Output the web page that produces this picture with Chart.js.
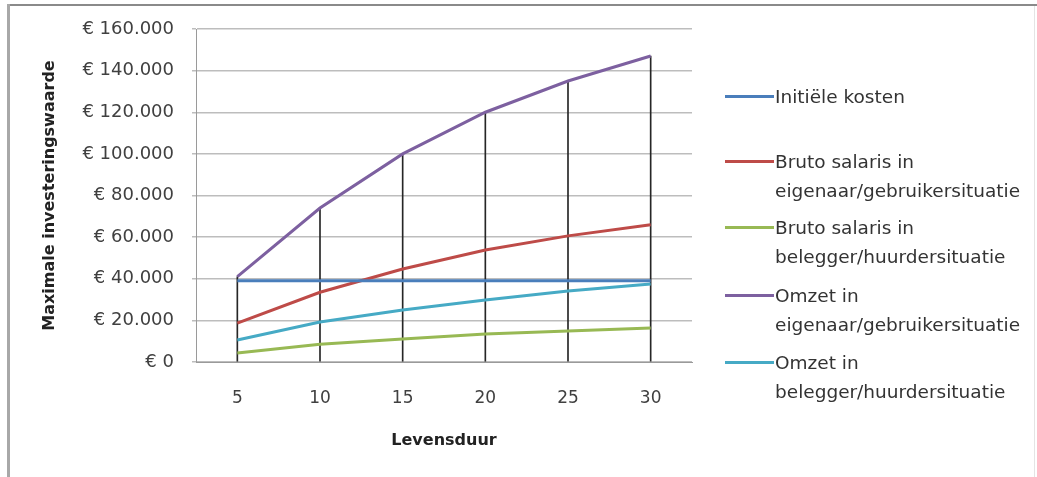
<!DOCTYPE html>
<html>
<head>
<meta charset="utf-8">
<script src="https://cdn.jsdelivr.net/npm/chart.js@4"></script>
<style>
    html, body { margin: 0; padding: 0; background: #fff; }
    .wrap { position: relative; width: 1037px; height: 477px; overflow: hidden; background: #fff; }
    .frame-top { position: absolute; left: 7px; top: 4px; width: 1030px; height: 2px; background: #8a8a8a; }
    .frame-left { position: absolute; left: 7px; top: 4px; width: 3px; height: 473px; background: #a8a8a8; }
    .frame-right { position: absolute; left: 1034px; top: 6px; width: 1px; height: 471px; background: #e4e4e4; }
    canvas { position: absolute; left: 0; top: 0; }
    .legend { position: absolute; left: 0; top: 0; font-family: "DejaVu Sans", sans-serif; font-size: 18.5px; color: #333; }
    .legend .sample { position: absolute; left: 725px; width: 49px; height: 3px; }
    .legend .text { position: absolute; left: 775px; line-height: 29px; white-space: nowrap; }
</style>
</head>
<body>
<div class="wrap">
    <canvas id="chart" width="1037" height="477"></canvas>
    <div class="frame-top"></div>
    <div class="frame-left"></div>
    <div class="frame-right"></div>
    <div class="legend" id="legend"></div>
</div>
<script>
// Levensduur (jaren)
const years = ['5', '10', '15', '20', '25', '30'];

const initieleKosten = [39000, 39000, 39000, 39000, 39000, 39000];
const salarisEigenaar = [18700, 33500, 44700, 53800, 60600, 65900];
const salarisBelegger = [4300, 8500, 11000, 13500, 14900, 16300];
const omzetEigenaar = [41000, 74000, 100000, 120000, 135000, 147000];
const omzetBelegger = [10600, 19200, 25000, 29800, 34100, 37500];

const yMin = 0;
const yMax = 160000;
const yStep = 20000;

const series = [
    { label: ['Initiële kosten'], data: initieleKosten, color: '#4a7ebb' },
    { label: ['Bruto salaris in', 'eigenaar/gebruikersituatie'], data: salarisEigenaar, color: '#be4b48' },
    { label: ['Bruto salaris in', 'belegger/huurdersituatie'], data: salarisBelegger, color: '#98b954' },
    { label: ['Omzet in', 'eigenaar/gebruikersituatie'], data: omzetEigenaar, color: '#7d60a0' },
    { label: ['Omzet in', 'belegger/huurdersituatie'], data: omzetBelegger, color: '#46aac5' }
];

// legend rows (y of first text line)
const legendRows = [96, 161, 227, 295, 362];

// drop lines go from the highest series value down to the axis
const dropLines = years.map((_, i) => Math.max(...series.map(s => s.data[i])));

function euro(v) {
    return '€ ' + String(v).replace(/\B(?=(\d{3})+(?!\d))/g, '.');
}

const datasets = series.map(s => ({
    type: 'line',
    label: s.label.join(' '),
    data: s.data,
    borderColor: s.color,
    backgroundColor: s.color,
    borderWidth: 3,
    pointRadius: 0,
    tension: 0,
    order: 1
}));

datasets.push({
    type: 'bar',
    label: 'drop',
    data: dropLines,
    backgroundColor: '#262626',
    barThickness: 1,
    order: 10
});

const ctx = document.getElementById('chart').getContext('2d');
new Chart(ctx, {
    type: 'line',
    data: { labels: years, datasets: datasets },
    options: {
        responsive: false,
        animation: false,
        devicePixelRatio: 1,
        layout: { padding: { left: 10, top: 29, right: 345, bottom: 10 } },
        plugins: {
            legend: { display: false },
            tooltip: { enabled: false }
        },
        scales: {
            x: {
                offset: true,
                grid: { display: false, drawTicks: false },
                border: { display: true, color: '#9a9a9a', width: 1 },
                ticks: {
                    padding: 26,
                    color: '#404040',
                    font: { family: 'DejaVu Sans', size: 17 }
                },
                title: {
                    display: true,
                    text: 'Levensduur',
                    color: '#222',
                    font: { family: 'DejaVu Sans', size: 16, weight: 'bold' },
                    padding: { top: 0, bottom: 17 }
                },
                afterFit: scale => { scale.height = 105; }
            },
            y: {
                min: yMin,
                max: yMax,
                grid: { color: '#bdbdbd', lineWidth: 1.5, tickLength: 4 },
                border: { display: true, color: '#9a9a9a', width: 1 },
                ticks: {
                    stepSize: yStep,
                    padding: 18,
                    color: '#404040',
                    font: { family: 'DejaVu Sans', size: 18 },
                    callback: v => euro(v)
                },
                title: {
                    display: true,
                    text: 'Maximale investeringswaarde',
                    color: '#222',
                    font: { family: 'DejaVu Sans', size: 16, weight: 'bold' },
                    padding: { top: 30, bottom: 0 }
                },
                afterFit: scale => { scale.width = 186; }
            }
        }
    }
});

// legend on the right, one block per series
const legend = document.getElementById('legend');
series.forEach((s, i) => {
    const y = legendRows[i];
    const sample = document.createElement('div');
    sample.className = 'sample';
    sample.style.top = (y - 1.5) + 'px';
    sample.style.background = s.color;
    legend.appendChild(sample);

    const text = document.createElement('div');
    text.className = 'text';
    text.style.top = (y - 14.5) + 'px';
    text.innerHTML = s.label.join('<br>');
    legend.appendChild(text);
});
</script>
</body>
</html>
